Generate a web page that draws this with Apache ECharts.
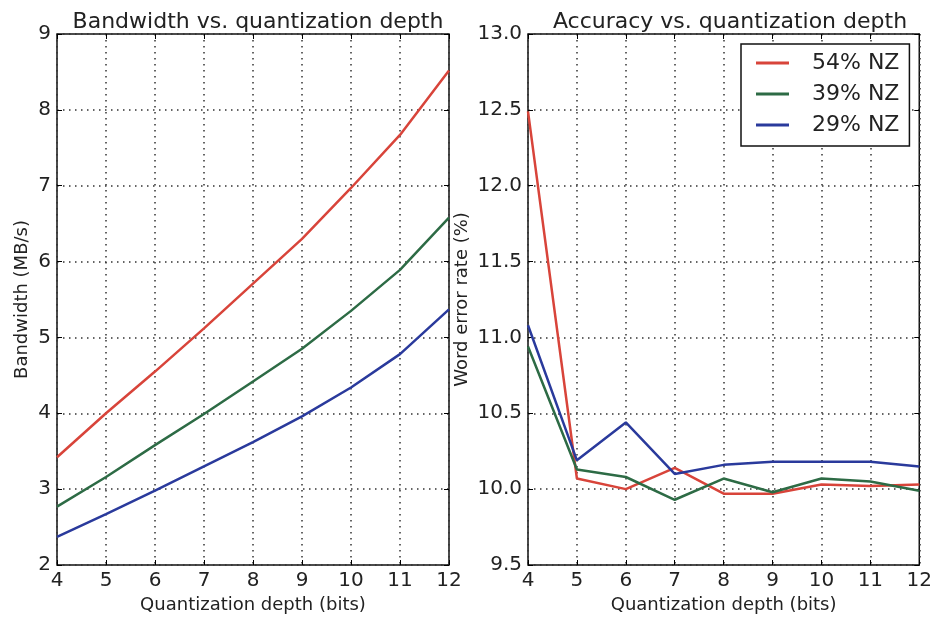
<!DOCTYPE html>
<html>
<head>
<meta charset="utf-8">
<script src="https://cdn.jsdelivr.net/npm/echarts@6/dist/echarts.min.js"></script>
<style>
  html, body { margin: 0; padding: 0; background: #fff; }
  #chart { width: 935px; height: 621px; }
</style>
</head>
<body>
<div id="chart"></div>
<script>
// quantization depth (bits)
const bits = [4, 5, 6, 7, 8, 9, 10, 11, 12]
const names = ['54% NZ', '39% NZ', '29% NZ']

// bandwidth (MB/s)
const bw54 = [3.42, 4.0, 4.55, 5.12, 5.71, 6.3, 6.97, 7.67, 8.52]
const bw39 = [2.77, 3.16, 3.58, 3.99, 4.42, 4.85, 5.35, 5.89, 6.58]
const bw29 = [2.37, 2.67, 2.98, 3.3, 3.62, 3.96, 4.34, 4.78, 5.37]

// word error rate (%)
const wer54 = [12.49, 10.07, 10.0, 10.14, 9.97, 9.97, 10.03, 10.02, 10.03]
const wer39 = [10.94, 10.13, 10.08, 9.93, 10.07, 9.98, 10.07, 10.05, 9.99]
const wer29 = [11.08, 10.19, 10.44, 10.1, 10.16, 10.18, 10.18, 10.18, 10.15]

const colors = ['#d8443a', '#2d6b45', '#2a3a9c']
const font = 'DejaVu Sans'
const gridDots = { color: '#333', type: [1.5, 4.5], width: 1.5 }
const ticks = { show: true, inside: true, length: 5, lineStyle: { color: '#000', width: 1 } }

function pairs (ys) {
  return bits.map((b, i) => [b, ys[i]])
}

function xAxis (idx, top) {
  return {
    type: 'value',
    gridIndex: idx,
    position: top ? 'top' : 'bottom',
    min: 4,
    max: 12,
    interval: 1,
    name: top ? '' : 'Quantization depth (bits)',
    nameLocation: 'middle',
    nameGap: 31,
    nameTextStyle: { color: '#222', fontSize: 18, fontFamily: font },
    axisLine: { show: false },
    axisTick: ticks,
    axisLabel: { show: !top, color: '#222', fontSize: 20, fontFamily: font, margin: 6 },
    splitLine: { show: !top, lineStyle: gridDots }
  }
}

function yAxis (idx, right, opts) {
  return Object.assign({
    type: 'value',
    gridIndex: idx,
    position: right ? 'right' : 'left',
    nameLocation: 'middle',
    nameTextStyle: { color: '#222', fontSize: 18, fontFamily: font },
    axisLine: { show: false },
    axisTick: ticks,
    splitLine: { show: !right, lineStyle: gridDots }
  }, opts)
}

function line (name, data, idx, k) {
  return {
    name: name,
    type: 'line',
    xAxisIndex: idx,
    yAxisIndex: idx,
    data: pairs(data),
    showSymbol: false,
    symbol: 'none',
    color: colors[k],
    lineStyle: { width: 2.5, color: colors[k] },
    animation: false
  }
}

const bwAxis = { min: 2, max: 9, interval: 1 }
const werAxis = { min: 9.5, max: 13, interval: 0.5 }

let myChart = echarts.init(document.getElementById('chart'))
myChart.setOption({
  backgroundColor: '#fff',
  animation: false,
  title: [
    {
      text: 'Bandwidth vs. quantization depth',
      left: 253,
      top: 6,
      textAlign: 'center',
      textStyle: { color: '#222', fontSize: 22, fontWeight: 'normal', fontFamily: font }
    },
    {
      text: 'Accuracy vs. quantization depth',
      left: 725,
      top: 6,
      textAlign: 'center',
      textStyle: { color: '#222', fontSize: 22, fontWeight: 'normal', fontFamily: font }
    }
  ],
  grid: [
    { left: 57, right: 486, top: 34, bottom: 56, show: true, borderColor: '#111', borderWidth: 1.5, backgroundColor: 'transparent' },
    { left: 528, right: 13, top: 34, bottom: 56, show: true, borderColor: '#111', borderWidth: 1.5, backgroundColor: 'transparent' }
  ],
  legend: {
    data: names,
    orient: 'vertical',
    left: 741,
    top: 44,
    width: 171,
    padding: [8, 10, 10, 15],
    itemGap: 9,
    itemWidth: 33,
    itemHeight: 3,
    icon: 'rect',
    borderColor: '#111',
    borderWidth: 1.5,
    backgroundColor: '#fff',
    textStyle: { color: '#222', fontSize: 22, fontFamily: font, padding: [0, 0, 0, 18] }
  },
  xAxis: [xAxis(0, false), xAxis(1, false), xAxis(0, true), xAxis(1, true)],
  yAxis: [
    yAxis(0, false, Object.assign({
      name: 'Bandwidth (MB/s)',
      nameGap: 26,
      axisLabel: { color: '#222', fontSize: 20, fontFamily: font, margin: 6 }
    }, bwAxis)),
    yAxis(1, false, Object.assign({
      name: 'Word error rate (%)',
      nameGap: 57,
      axisLabel: {
        color: '#222',
        fontSize: 20,
        fontFamily: font,
        margin: 6,
        formatter: v => v.toFixed(1)
      }
    }, werAxis)),
    yAxis(0, true, Object.assign({ axisLabel: { show: false } }, bwAxis)),
    yAxis(1, true, Object.assign({ axisLabel: { show: false } }, werAxis))
  ],
  series: [
    line(names[0], bw54, 0, 0),
    line(names[1], bw39, 0, 1),
    line(names[2], bw29, 0, 2),
    line(names[0], wer54, 1, 0),
    line(names[1], wer39, 1, 1),
    line(names[2], wer29, 1, 2)
  ]
})
</script>
</body>
</html>
